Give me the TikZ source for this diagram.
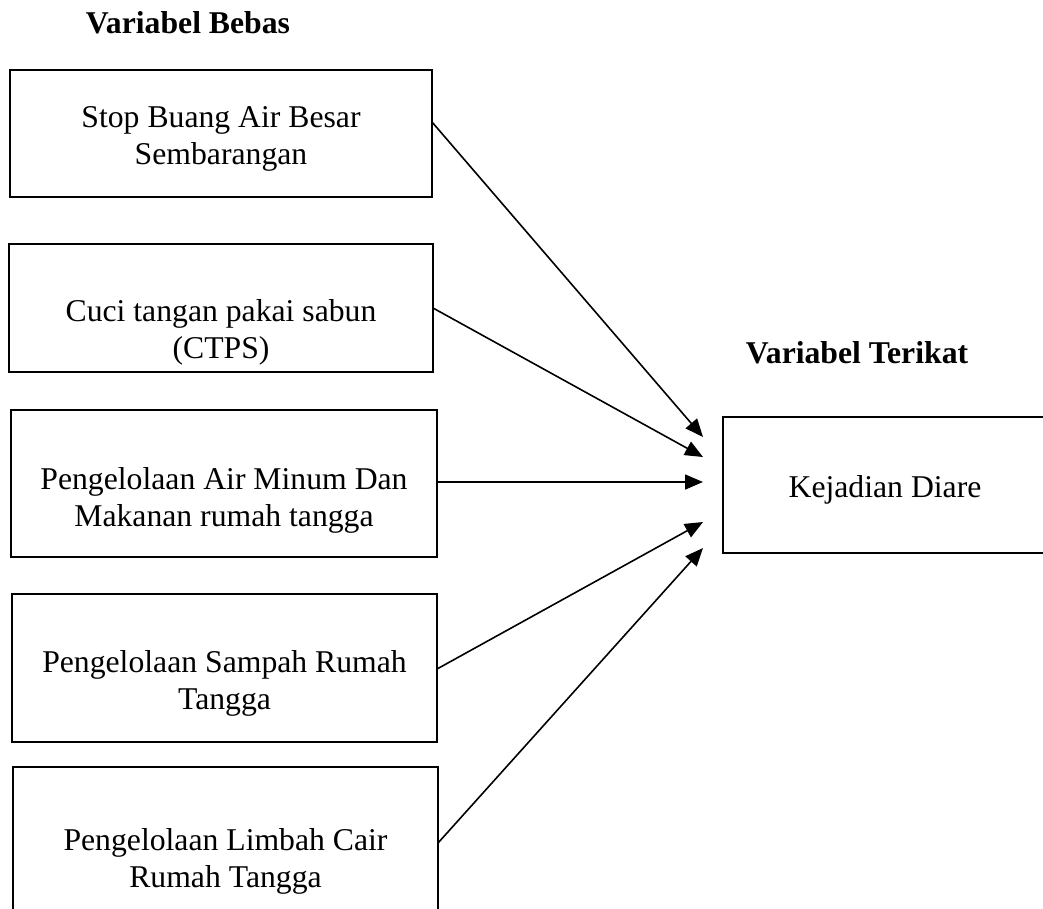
\documentclass[tikz,border=0pt]{standalone}
\usepackage{fontspec}
\setmainfont{Liberation Serif}
\usetikzlibrary{arrows.meta,calc}
\begin{document}
\begin{tikzpicture}[x=1pt,y=-1pt,
  box/.style={draw,line width=1.8pt,rectangle,inner sep=0pt,outer sep=0pt},
  txt/.style={align=center,inner sep=0pt,font=\fontsize{31.7}{37}\selectfont},
  ttl/.style={inner sep=0pt,font=\fontsize{31.7}{37}\selectfont\bfseries},
  arr/.style={line width=1.6pt,-{Triangle[length=18pt,width=15pt]}}]
\useasboundingbox (0,0) rectangle (1043,908);
\clip (0,0) rectangle (1043,908);
% titles
\node[ttl,anchor=base] (tb) at (188,33) {Variabel Bebas};
\node[ttl,anchor=base] (tt) at (857,363) {Variabel Terikat};
% left boxes
\node[box,minimum width=422,minimum height=127] (b1) at (221,133.5) {};
\node[box,minimum width=424,minimum height=128] (b2) at (221,308) {};
\node[box,minimum width=426,minimum height=147] (b3) at (224,483.5) {};
\node[box,minimum width=425,minimum height=148] (b4) at (224.5,668) {};
\node[box,minimum width=425,minimum height=160] (b5) at (225.5,847) {};
% right box
\node[box,minimum width=327,minimum height=136] (kd) at (886.5,485) {};
% texts
\node[txt] (t1) at (221,139.2) {Stop Buang Air Besar\\Sembarangan};
\node[txt] (t2) at (221,332.7) {Cuci tangan pakai sabun\\(CTPS)};
\node[txt] (t3) at (224,500) {Pengelolaan Air Minum Dan\\Makanan rumah tangga};
\node[txt] (t4) at (224.5,683.7) {Pengelolaan Sampah Rumah\\Tangga};
\node[txt] (t5) at (225.5,861) {Pengelolaan Limbah Cair\\Rumah Tangga};
\node[txt] (t6) at (885,489.6) {Kejadian Diare};
% arrow end points
\coordinate (e1) at ($(kd.west)+(-20,-48)$);
\coordinate (e2) at ($(kd.west)+(-20,-28)$);
\coordinate (e3) at ($(kd.west)+(-20,-3)$);
\coordinate (e4) at ($(kd.west)+(-20,37)$);
\coordinate (e5) at ($(kd.west)+(-20,63)$);
% arrows
\draw[arr] ($(b1.east)+(0,-11.5)$) -- (e1);
\draw[arr] (b2.east) -- (e2);
\draw[arr] ($(b3.east)+(0,-1.5)$) -- (e3);
\draw[arr] ($(b4.east)+(0,1)$) -- (e4);
\draw[arr] ($(b5.east)+(0,-4)$) -- (e5);
\end{tikzpicture}
\end{document}
